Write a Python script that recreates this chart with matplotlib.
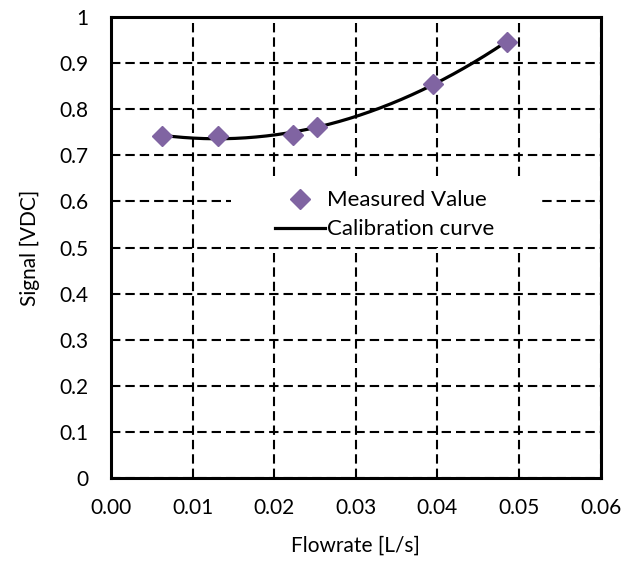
import numpy as np
import matplotlib.pyplot as plt
from matplotlib.patches import Rectangle

plt.rcParams['font.family'] = ['Lato', 'DejaVu Sans']

# measured calibration points
flowrate = [0.0063, 0.0131, 0.0223, 0.0252, 0.0394, 0.0485]
signal = [0.741, 0.742, 0.745, 0.761, 0.855, 0.946]

x_ticks = [0.00, 0.01, 0.02, 0.03, 0.04, 0.05, 0.06]
y_ticks = [0, 0.1, 0.2, 0.3, 0.4, 0.5, 0.6, 0.7, 0.8, 0.9, 1]

# second order fit through the measured values
coef = np.polyfit(flowrate, signal, 2)
xs = np.linspace(min(flowrate), max(flowrate), 200)
ys = np.polyval(coef, xs)

fig = plt.figure(figsize=(6.31, 5.64), dpi=100)
ax = fig.add_axes([0.176, 0.152, 0.776, 0.818])

ax.set_axisbelow(True)
ax.grid(True, color='black', linestyle=(0, (4.5, 2.4)), linewidth=1.5)

ax.plot(flowrate, signal, linestyle='none', marker='D', markersize=10,
        color='#8064A2', label='Measured Value', zorder=3)
ax.plot(xs, ys, color='black', linewidth=2.3, label='Calibration curve', zorder=2)

ax.set_xlim(0, 0.06)
ax.set_ylim(0, 1)
ax.set_xticks(x_ticks)
ax.set_yticks(y_ticks)
ax.set_xticklabels(['%.2f' % v for v in x_ticks])
ax.set_yticklabels(['%g' % v for v in y_ticks])
ax.tick_params(length=0, labelsize=15)
ax.tick_params(axis='x', pad=14)
ax.tick_params(axis='y', pad=16)

for s in ax.spines.values():
    s.set_linewidth(2.2)
    s.set_color('black')

ax.set_xlabel('Flowrate [L/s]', fontsize=15, labelpad=13)
ax.set_ylabel('Signal [VDC]', fontsize=15, labelpad=14)

# white block behind the legend hides the grid there
ax.add_patch(Rectangle((0.245, 0.501), 0.635, 0.154, transform=ax.transAxes,
                       facecolor='white', edgecolor='none', zorder=1))
ax.legend(loc='center', bbox_to_anchor=(0.559, 0.571), frameon=False,
          fontsize=16, handlelength=2.25, handletextpad=0.1, labelspacing=0.4)

fig.savefig('out.png', dpi=100)
